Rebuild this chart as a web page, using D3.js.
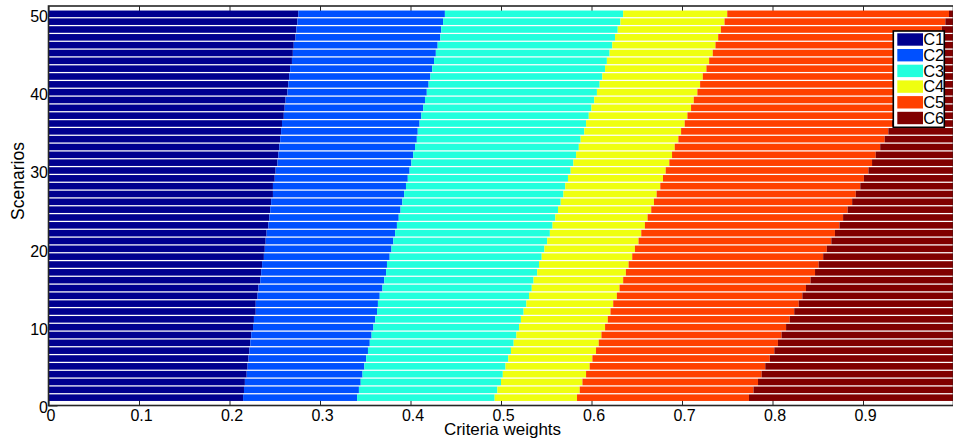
<!DOCTYPE html>
<html>
<head>
<meta charset="utf-8">
<script src="https://cdn.jsdelivr.net/npm/d3@7"></script>
<style>
    body { margin: 0; background: #ffffff; }
    svg { display: block; font-family: "Liberation Sans", Arial, sans-serif; }
</style>
</head>
<body>
<div id="chart"></div>
<script>
// Scenario numbers (one horizontal bar each)
const scenarios = [1, 2, 3, 4, 5, 6, 7, 8, 9, 10, 11, 12, 13, 14, 15, 16, 17, 18, 19, 20,
    21, 22, 23, 24, 25, 26, 27, 28, 29, 30, 31, 32, 33, 34, 35, 36, 37, 38, 39, 40,
    41, 42, 43, 44, 45, 46, 47, 48, 49, 50];

// Criteria names
const criteria = ['C1', 'C2', 'C3', 'C4', 'C5', 'C6'];

// Criteria weights per scenario
const c1 = [0.215, 0.216, 0.217, 0.219, 0.220, 0.221, 0.222, 0.223, 0.224, 0.226,
    0.227, 0.229, 0.229, 0.231, 0.232, 0.234, 0.235, 0.236, 0.238, 0.239,
    0.240, 0.241, 0.243, 0.244, 0.245, 0.246, 0.248, 0.248, 0.250, 0.251,
    0.253, 0.254, 0.255, 0.256, 0.257, 0.258, 0.260, 0.261, 0.262, 0.264,
    0.265, 0.266, 0.267, 0.269, 0.270, 0.271, 0.273, 0.274, 0.275, 0.276];
const c2 = [0.126, 0.127, 0.128, 0.128, 0.129, 0.130, 0.131, 0.132, 0.133, 0.133,
    0.134, 0.134, 0.135, 0.135, 0.137, 0.137, 0.138, 0.138, 0.139, 0.140,
    0.141, 0.142, 0.142, 0.143, 0.144, 0.145, 0.145, 0.147, 0.147, 0.148,
    0.148, 0.149, 0.150, 0.151, 0.151, 0.152, 0.152, 0.153, 0.154, 0.154,
    0.155, 0.156, 0.157, 0.157, 0.158, 0.159, 0.160, 0.160, 0.161, 0.162];
const c3 = [0.152, 0.153, 0.155, 0.155, 0.156, 0.157, 0.158, 0.159, 0.160, 0.161,
    0.161, 0.162, 0.164, 0.165, 0.165, 0.165, 0.167, 0.168, 0.168, 0.169,
    0.170, 0.171, 0.172, 0.173, 0.174, 0.175, 0.176, 0.176, 0.177, 0.178,
    0.179, 0.180, 0.181, 0.181, 0.184, 0.184, 0.185, 0.186, 0.187, 0.188,
    0.189, 0.190, 0.191, 0.191, 0.192, 0.193, 0.193, 0.195, 0.196, 0.197];
const c4 = [0.091, 0.091, 0.090, 0.092, 0.093, 0.093, 0.094, 0.094, 0.094, 0.095,
    0.096, 0.096, 0.096, 0.097, 0.097, 0.099, 0.098, 0.099, 0.100, 0.100,
    0.101, 0.101, 0.102, 0.102, 0.103, 0.103, 0.103, 0.105, 0.105, 0.105,
    0.106, 0.106, 0.106, 0.108, 0.107, 0.109, 0.109, 0.110, 0.110, 0.111,
    0.111, 0.111, 0.112, 0.113, 0.114, 0.114, 0.114, 0.114, 0.115, 0.115];
const c5 = [0.190, 0.192, 0.194, 0.194, 0.194, 0.196, 0.197, 0.198, 0.199, 0.200,
    0.201, 0.203, 0.205, 0.205, 0.206, 0.207, 0.209, 0.210, 0.211, 0.212,
    0.213, 0.214, 0.215, 0.216, 0.217, 0.219, 0.220, 0.221, 0.222, 0.224,
    0.224, 0.225, 0.227, 0.228, 0.229, 0.229, 0.230, 0.231, 0.233, 0.233,
    0.235, 0.237, 0.237, 0.239, 0.239, 0.240, 0.242, 0.244, 0.244, 0.245];
const c6 = [0.226, 0.221, 0.216, 0.212, 0.208, 0.203, 0.198, 0.194, 0.190, 0.185,
    0.181, 0.176, 0.171, 0.167, 0.163, 0.158, 0.153, 0.149, 0.144, 0.140,
    0.135, 0.131, 0.126, 0.122, 0.117, 0.112, 0.108, 0.103, 0.099, 0.094,
    0.090, 0.086, 0.081, 0.076, 0.072, 0.068, 0.064, 0.059, 0.054, 0.050,
    0.045, 0.040, 0.036, 0.031, 0.027, 0.023, 0.018, 0.013, 0.009, 0.005];

// Tick values on both axes
const xTicks = [0, 0.1, 0.2, 0.3, 0.4, 0.5, 0.6, 0.7, 0.8, 0.9];
const yTicks = [0, 10, 20, 30, 40, 50];

// Jet colours, one per criterion
const colors = ['#00008f', '#0050ff', '#22ffdd', '#efff10', '#ff4000', '#800000'];

// Function to draw the stacked horizontal bar chart
function drawChart() {
    const width = 953, height = 441;
    const left = 48.5, right = 953.5, top = 6, bottom = 405.5;

    // Building rows for d3.stack
    const series = [c1, c2, c3, c4, c5, c6];
    const rows = scenarios.map((s, i) => {
        const row = { scenario: s };
        criteria.forEach((c, j) => { row[c] = series[j][i]; });
        return row;
    });
    const stacked = d3.stack().keys(criteria)(rows);

    const x = d3.scaleLinear().domain([0, 1]).range([left, right]);
    const y = d3.scaleLinear().domain([0, 51]).range([bottom, top]);
    const color = d3.scaleOrdinal().domain(criteria).range(colors);
    const barWidth = 0.84;

    const svg = d3.select('#chart').append('svg')
        .attr('width', width)
        .attr('height', height);

    // Axes first, so the bars cover the inward tick marks
    const xBottom = svg.append('g')
        .attr('transform', `translate(0,${bottom})`)
        .call(d3.axisBottom(x).tickValues(xTicks).tickSizeInner(-9).tickSizeOuter(0)
            .tickFormat(d => d === 0 ? '0' : d3.format('.1f')(d)));
    xBottom.select('.domain').remove();
    xBottom.selectAll('.tick line').attr('stroke', '#262626');
    xBottom.selectAll('.tick text')
        .attr('y', 15.5)
        .attr('dy', 0)
        .attr('dx', 2)
        .attr('fill', '#000')
        .style('font-size', '16px')
        .style('font-family', '"Liberation Sans", Arial, sans-serif');

    const xTop = svg.append('g')
        .attr('transform', `translate(0,${top})`)
        .call(d3.axisTop(x).tickValues(xTicks).tickSizeInner(-9).tickSizeOuter(0).tickFormat(''));
    xTop.select('.domain').remove();
    xTop.selectAll('.tick line').attr('stroke', '#262626');

    const yLeft = svg.append('g')
        .attr('transform', `translate(${left},0)`)
        .call(d3.axisLeft(y).tickValues(yTicks).tickSizeInner(-9).tickSizeOuter(0));
    yLeft.select('.domain').remove();
    yLeft.selectAll('.tick line').attr('stroke', '#262626');
    yLeft.selectAll('.tick text')
        .attr('x', -0.5)
        .attr('dy', '0.45em')
        .attr('fill', '#000')
        .style('font-size', '16px')
        .style('font-family', '"Liberation Sans", Arial, sans-serif');

    // Stacked bars
    svg.append('g')
        .selectAll('g')
        .data(stacked)
        .enter()
        .append('g')
        .attr('fill', d => color(d.key))
        .selectAll('rect')
        .data(d => d)
        .enter()
        .append('rect')
        .attr('x', d => x(d[0]))
        .attr('width', d => x(d[1]) - x(d[0]))
        .attr('y', d => y(d.data.scenario + barWidth / 2))
        .attr('height', d => y(d.data.scenario - barWidth / 2) - y(d.data.scenario + barWidth / 2));

    // Axes box
    svg.append('rect')
        .attr('x', left)
        .attr('y', top)
        .attr('width', right - left)
        .attr('height', bottom - top)
        .attr('fill', 'none')
        .attr('stroke', '#262626')
        .attr('stroke-width', 1.6);

    // Axis titles
    svg.append('text')
        .attr('x', 502.5)
        .attr('y', 434.5)
        .attr('text-anchor', 'middle')
        .style('font-size', '17px')
        .text('Criteria weights');

    svg.append('text')
        .attr('transform', 'translate(24,181) rotate(-90)')
        .attr('text-anchor', 'middle')
        .style('font-size', '17.5px')
        .text('Scenarios');

    // Legend
    const legend = svg.append('g').attr('id', 'legend');
    legend.append('rect')
        .attr('x', 893.3)
        .attr('y', 31)
        .attr('width', 51)
        .attr('height', 96.3)
        .attr('fill', '#ffffff')
        .attr('stroke', '#000')
        .attr('stroke-width', 1.6);

    const items = legend.selectAll('.item')
        .data(criteria)
        .enter()
        .append('g')
        .attr('class', 'item')
        .attr('transform', (d, i) => `translate(0,${39.5 + i * 15.7})`);

    items.append('rect')
        .attr('x', 897.3)
        .attr('y', -6.2)
        .attr('width', 25.7)
        .attr('height', 12.4)
        .attr('fill', d => color(d));

    items.append('text')
        .attr('x', 923.2)
        .attr('y', 5.8)
        .style('font-size', '16.5px')
        .text(d => d);
}

drawChart();
</script>
</body>
</html>
